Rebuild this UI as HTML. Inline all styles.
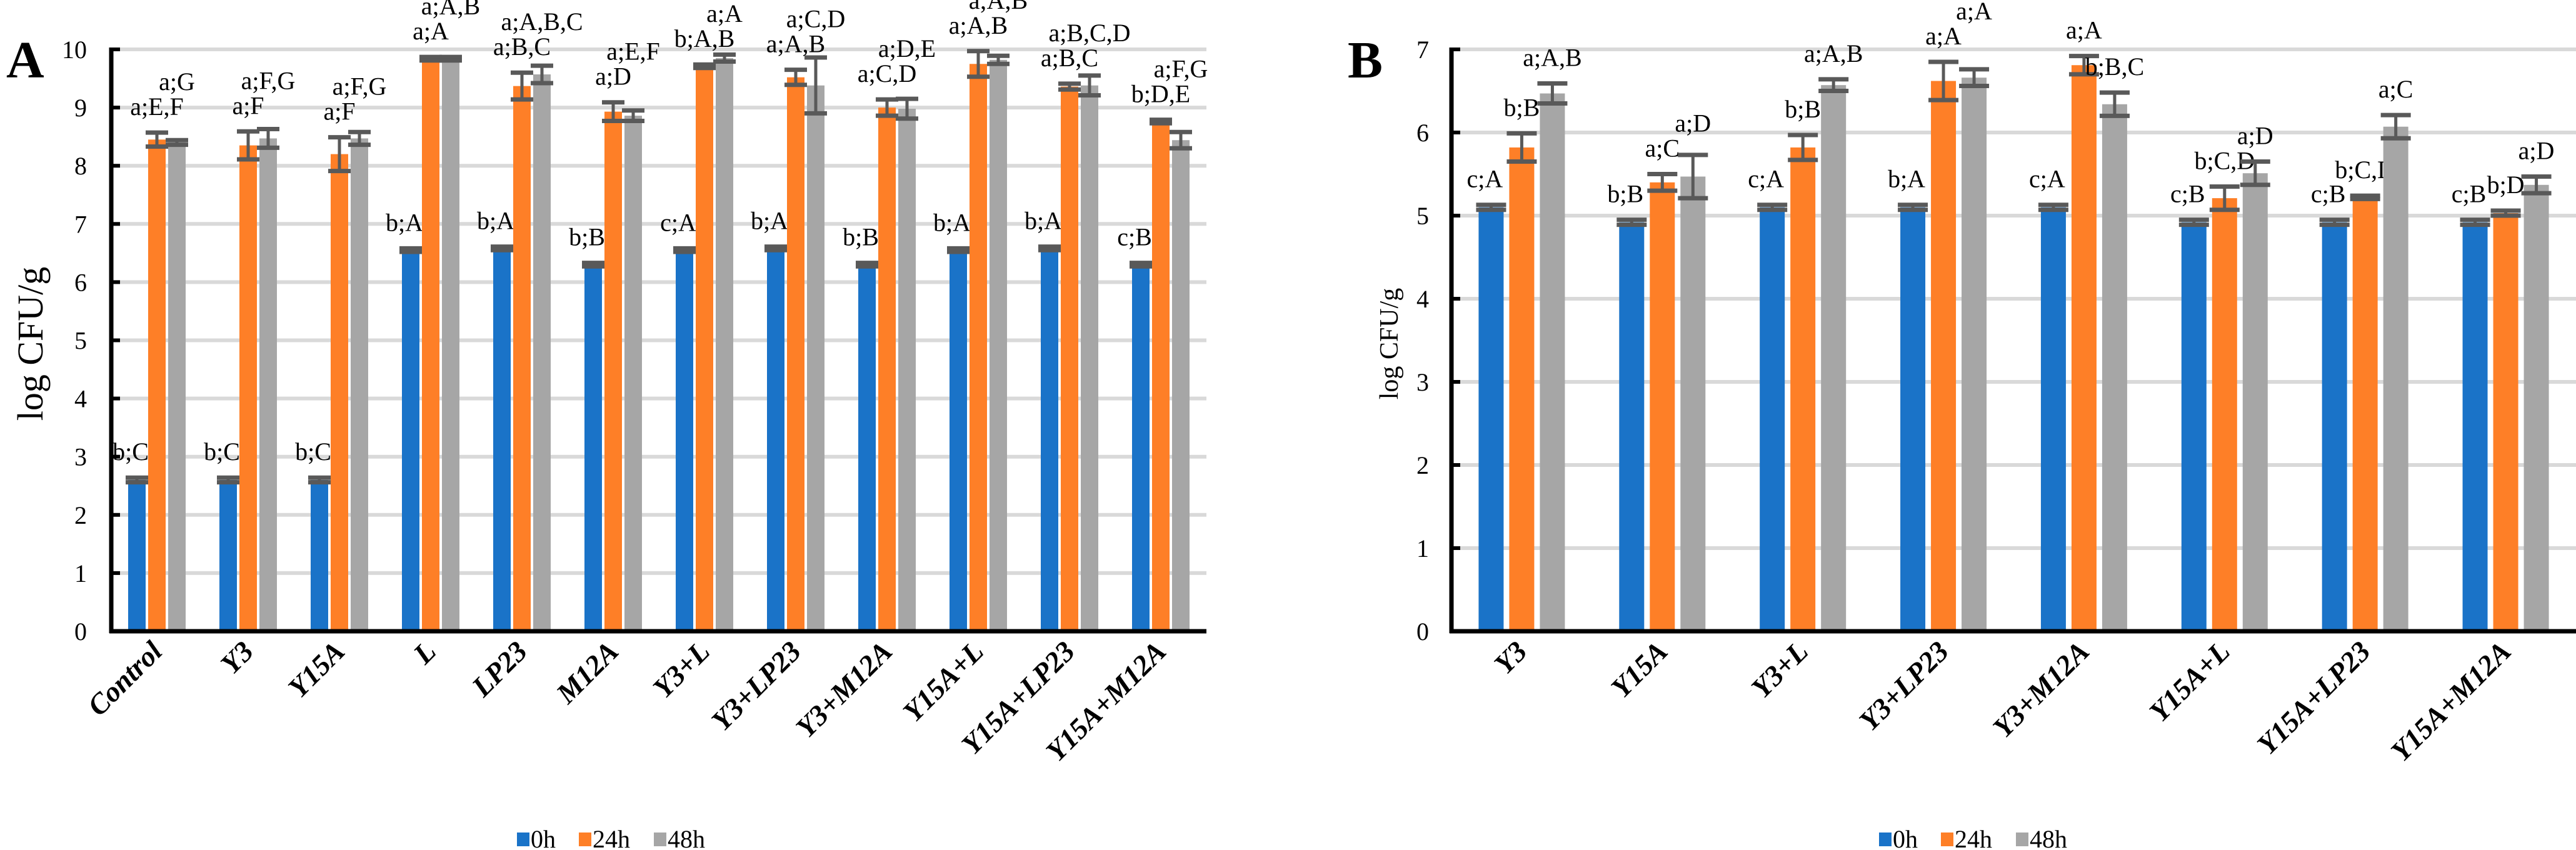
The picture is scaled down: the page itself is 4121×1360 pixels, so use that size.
<!DOCTYPE html>
<html><head><meta charset="utf-8"><style>
html,body{margin:0;padding:0;background:#fff;}
svg{display:block;font-family:"Liberation Serif",serif;}
svg text{font-family:"Liberation Serif",serif;}
</style></head><body>
<svg id="fig" width="4121" height="1360" viewBox="0 0 4121 1360" xmlns="http://www.w3.org/2000/svg"></svg>
<script>
// ---- Chart A data ----
const catsA = ["Control","Y3","Y15A","L","LP23","M12A","Y3+L","Y3+LP23","Y3+M12A","Y15A+L","Y15A+LP23","Y15A+M12A"];
const a0h = [2.6,2.6,2.6,6.55,6.58,6.3,6.55,6.58,6.3,6.55,6.58,6.3];
const a24h = [8.45,8.35,8.2,9.84,9.37,8.93,9.71,9.52,9.0,9.75,9.36,8.76];
const a48h = [8.4,8.47,8.47,9.84,9.57,8.86,9.85,9.38,8.98,9.82,9.38,8.44];
const aErr0 = [0.04,0.04,0.04,0.03,0.03,0.03,0.03,0.03,0.03,0.03,0.03,0.03];
const aErr24 = [0.12,0.24,0.29,0.03,0.23,0.16,0.03,0.13,0.14,0.22,0.05,0.03];
const aErr48 = [0.04,0.16,0.11,0.03,0.15,0.09,0.06,0.48,0.17,0.07,0.17,0.14];
const aLab0 = ["b;C","b;C","b;C","b;A","b;A","b;B","c;A","b;A","b;B","b;A","b;A","c;B"];
const aLab24 = ["a;E,F","a;F","a;F","a;A","a;B,C","a;D","b;A,B","a;A,B","a;C,D","a;A,B","a;B,C","b;D,E"];
const aLab48 = ["a;G","a;F,G","a;F,G","a;A,B","a;A,B,C","a;E,F","a;A","a;C,D","a;D,E","a;A,B","a;B,C,D","a;F,G"];
const ticksA = [0,1,2,3,4,5,6,7,8,9,10];
// ---- Chart B data ----
const catsB = ["Y3","Y15A","Y3+L","Y3+LP23","Y3+M12A","Y15A+L","Y15A+LP23","Y15A+M12A"];
const b0h = [5.1,4.92,5.1,5.1,5.1,4.92,4.92,4.92];
const b24h = [5.82,5.4,5.82,6.62,6.81,5.21,5.22,5.03];
const b48h = [6.47,5.47,6.57,6.66,6.34,5.51,6.07,5.37];
const bErr0 = [0.03,0.03,0.03,0.03,0.03,0.03,0.03,0.03];
const bErr24 = [0.17,0.1,0.15,0.23,0.11,0.14,0.02,0.03];
const bErr48 = [0.12,0.26,0.07,0.1,0.14,0.14,0.14,0.1];
const bLab0 = ["c;A","b;B","c;A","b;A","c;A","c;B","c;B","c;B"];
const bLab24 = ["b;B","a;C","b;B","a;A","a;A","b;C,D","b;C,D","b;D"];
const bLab48 = ["a;A,B","a;D","a;A,B","a;A","b;B,C","a;D","a;C","a;D"];
const ticksB = [0,1,2,3,4,5,6,7];
const seriesNames = ["0h","24h","48h"];

const NS="http://www.w3.org/2000/svg";
const svg=document.getElementById('fig');
const COLORS=["#1a73c8","#fe7f27","#a6a6a6"];
const FF='"Liberation Serif", serif';
function mk(tag,attrs,parent){const e=document.createElementNS(NS,tag);for(const k in attrs)e.setAttribute(k,attrs[k]);if(tag==='text')e.setAttribute('font-family',FF);(parent||svg).appendChild(e);return e;}

function drawChart(cfg){
  const g=mk('g',{});
  
  
  const y=v=>cfg.y0-(v-0)*cfg.unit;
  const n=cfg.cats.length;
  const gw=(cfg.xEnd-cfg.x0)/n;
  const cx=i=>cfg.x0+gw*(i+0.5);
  cfg.ticks.forEach(t=>{
    if(t>0){const l=mk('line',{x1:cfg.x0,x2:cfg.xEnd,y1:y(t),y2:y(t),stroke:'#d9d9d9','stroke-width':6},g);
    
    }
    const tk=mk('line',{x1:cfg.x0,x2:cfg.x0+14,y1:y(t),y2:y(t),stroke:'#000','stroke-width':6},g);
    
    
    const tl=mk('text',{x:cfg.tickX,y:y(t)+14,'text-anchor':'end','font-size':40},g);
    tl.textContent=t;
    
    
  });
  const series=[cfg.s0,cfg.s1,cfg.s2], errs=[cfg.e0,cfg.e1,cfg.e2], labs=[cfg.l0,cfg.l1,cfg.l2];
  for(let i=0;i<n;i++){
    let prev=null;
    for(let s=0;s<3;s++){
      const bx=cx(i)+(s-1)*cfg.sp;
      const r=mk('rect',{x:bx-cfg.bw/2,y:y(series[s][i]),width:cfg.bw,height:cfg.y0-y(series[s][i]),fill:COLORS[s]},g);
      
      
      const e=errs[s][i],top=y(series[s][i]+e),bot=y(series[s][i]-e);
      const eg=mk('g',{stroke:'#595959'},g);
      
      
      mk('line',{x1:bx,x2:bx,y1:top,y2:bot,'stroke-width':5},eg);
      mk('line',{x1:bx-cfg.bw/2-4,x2:bx+cfg.bw/2+4,y1:top,y2:top,'stroke-width':7},eg);
      mk('line',{x1:bx-cfg.bw/2-4,x2:bx+cfg.bw/2+4,y1:bot,y2:bot,'stroke-width':7},eg);
      let by=top-28, lx=bx-(s===0?10:0);
      const w=labs[s][i].length*17;
      if(prev && Math.abs(prev.by-by)<38 && (lx-w/2)<(prev.x+prev.w/2)){by=prev.by-40;}
      const t=mk('text',{x:lx,y:by,'text-anchor':'middle','font-size':40},g);
      t.textContent=labs[s][i];
      
      
      prev={by:by,x:lx,w:w};
    }
    const xl=mk('text',{x:cx(i)+11,y:cfg.y0+35,'text-anchor':'end','font-size':46,'font-style':'italic','font-weight':'bold',transform:`rotate(-45 ${cx(i)+11} ${cfg.y0+35})`},g);
    xl.textContent=cfg.cats[i];
    
    
  }
  const ya=mk('line',{x1:cfg.x0,x2:cfg.x0,y1:y(cfg.ticks[cfg.ticks.length-1])-3,y2:cfg.y0+3,stroke:'#000','stroke-width':7},g);
  
  
  const xa=mk('line',{x1:cfg.x0-3,x2:cfg.xEnd,y1:cfg.y0,y2:cfg.y0,stroke:'#000','stroke-width':7},g);
  
  
  const yt=mk('text',{x:0,y:0,'text-anchor':'middle','font-size':cfg.titleSize,transform:`translate(${cfg.titleX} 550) rotate(-90)`},g);
  yt.textContent='log CFU/g';
  
  
  const pl=mk('text',{x:cfg.panelX,y:124,'font-size':84,'font-weight':'bold'},g);
  pl.textContent=cfg.panel;
  
  
  const lg=mk('g',{},g);
  
  
  const offs=[0,99,219];
  seriesNames.forEach((nm,s)=>{
    const sw=mk('rect',{x:cfg.legX+offs[s],y:1332,width:20,height:22,fill:COLORS[s]},lg);
    
    
    const tx=mk('text',{x:cfg.legX+offs[s]+22,y:1356,'font-size':40},lg);
    tx.textContent=nm;
    
    
  });
}
drawChart({name:'chart-a',panel:'A',panelX:10,cats:catsA,s0:a0h,s1:a24h,s2:a48h,e0:aErr0,e1:aErr24,e2:aErr48,l0:aLab0,l1:aLab24,l2:aLab48,ticks:ticksA,
  x0:178,xEnd:1930,y0:1010,unit:93.1,bw:28,sp:32,tickX:139,titleX:68,titleSize:58,legX:827});
drawChart({name:'chart-b',panel:'B',panelX:2156,cats:catsB,s0:b0h,s1:b24h,s2:b48h,e0:bErr0,e1:bErr24,e2:bErr48,l0:bLab0,l1:bLab24,l2:bLab48,ticks:ticksB,
  x0:2322,xEnd:4121,y0:1010,unit:133,bw:40,sp:49,tickX:2286,titleX:2236,titleSize:42,legX:3006});
</script>
</body></html>
